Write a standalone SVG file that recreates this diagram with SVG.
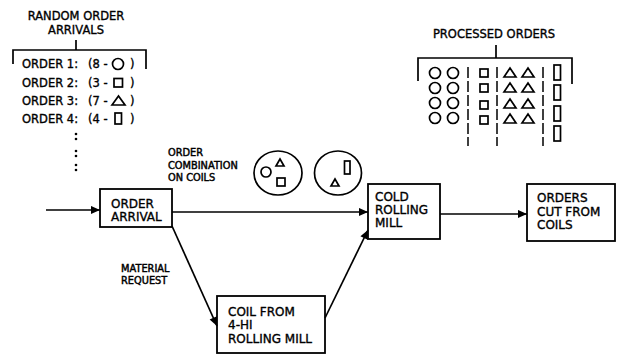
<svg xmlns="http://www.w3.org/2000/svg" width="620" height="355" viewBox="0 0 620 355">
<style>
text { font-family: "DejaVu Sans", "Liberation Sans", sans-serif; fill: #000; stroke: #000; stroke-width: 0.35; }
.box { font-size: 12px; }
.lbl { font-size: 9.8px; stroke-width: 0.45; }
.hdr { font-size: 11.5px; }
.lst { font-size: 11.5px; }
.node rect { fill: #fff; stroke: #000; stroke-width: 1.8; }
.ln { fill: none; stroke: #000; stroke-width: 1.7; }
.sym { fill: none; stroke: #000; stroke-width: 1.7; }
.dash { fill: none; stroke: #000; stroke-width: 1.5; stroke-dasharray: 11 3; }
</style>
<defs>
<marker id="ah" viewBox="0 0 10 10" refX="10" refY="5" markerWidth="10" markerHeight="9" markerUnits="userSpaceOnUse" orient="auto">
<path d="M0,0.5 L10,5 L0,9.5 Z" fill="#000"/>
</marker>
</defs>
<rect width="620" height="355" fill="#fff"/>

<g id="random-orders">
<text class="hdr" x="76" y="20" text-anchor="middle">RANDOM ORDER</text>
<text class="hdr" x="76" y="34" text-anchor="middle">ARRIVALS</text>
<path class="ln" d="M76,40 V50 M13,64 V50 H146 V69"/>
<text class="lst" x="22" y="68">ORDER 1:</text>
<text class="lst" x="88" y="68">(8 -</text>
<circle class="sym" cx="118" cy="64" r="5.5"/>
<text class="lst" x="130" y="68">)</text>
<text class="lst" x="22" y="86.5">ORDER 2:</text>
<text class="lst" x="88" y="86.5">(3 -</text>
<rect class="sym" x="114" y="78.5" width="8.5" height="8.5"/>
<text class="lst" x="130" y="86.5">)</text>
<text class="lst" x="22" y="105">ORDER 3:</text>
<text class="lst" x="88" y="105">(7 -</text>
<path class="sym" d="M112,105 L118.5,96 L125,105 Z"/>
<text class="lst" x="130" y="105">)</text>
<text class="lst" x="22" y="123">ORDER 4:</text>
<text class="lst" x="88" y="123">(4 -</text>
<rect class="sym" x="115" y="113" width="6.5" height="11"/>
<text class="lst" x="130" y="123">)</text>
<g fill="#000">
<circle cx="76" cy="134" r="1.3"/><circle cx="76" cy="139" r="1.3"/>
<circle cx="76" cy="151" r="1.3"/><circle cx="76" cy="156" r="1.3"/>
<circle cx="76" cy="165" r="1.3"/><circle cx="76" cy="170" r="1.3"/>
</g>
</g>

<g id="processed-orders">
<text class="hdr" x="494" y="38" text-anchor="middle">PROCESSED ORDERS</text>
<path class="ln" d="M496,45 V58 M418,81 V58 H572 V84"/>
<g class="sym">
<circle cx="435" cy="73" r="5.5"/><circle cx="453" cy="73" r="5.5"/>
<circle cx="435" cy="88" r="5.5"/><circle cx="453" cy="88" r="5.5"/>
<circle cx="435" cy="103" r="5.5"/><circle cx="453" cy="103" r="5.5"/>
<circle cx="435" cy="118" r="5.5"/><circle cx="453" cy="118" r="5.5"/>
<rect x="480" y="69" width="8" height="8"/>
<rect x="480" y="84" width="8" height="8"/>
<rect x="480" y="101" width="8" height="8"/>
<rect x="480" y="116" width="8" height="8"/>
<path d="M504,77 L510,68 L516,77 Z M522,77 L528,68 L534,77 Z"/>
<path d="M504,92 L510,83 L516,92 Z M522,92 L528,83 L534,92 Z"/>
<path d="M504,108 L510,99 L516,108 Z M522,108 L528,99 L534,108 Z"/>
<path d="M504,123 L510,114 L516,123 Z M522,123 L528,114 L534,123 Z"/>
<rect x="554" y="65" width="6.5" height="15"/>
<rect x="554" y="85" width="6.5" height="15"/>
<rect x="554" y="106" width="6.5" height="15"/>
<rect x="554" y="126" width="6.5" height="15"/>
</g>
<path class="dash" d="M468,67 V146 M497,67 V146 M543,67 V146"/>
</g>

<g id="order-combination">
<text class="lbl" x="168" y="156">ORDER</text>
<text class="lbl" x="168" y="169">COMBINATION</text>
<text class="lbl" x="168" y="181">ON COILS</text>
<g class="sym">
<ellipse cx="278" cy="173" rx="24" ry="22"/>
<circle cx="266" cy="172" r="5"/>
<path d="M276,166 L280,159 L284,166 Z"/>
<rect x="277" y="178" width="8" height="8"/>
<ellipse cx="338" cy="173" rx="23.5" ry="22"/>
<path d="M331,186 L335,179 L339,186 Z"/>
<rect x="344.5" y="161" width="5.5" height="13"/>
</g>
</g>

<g id="material-request">
<text class="lbl" x="121" y="272">MATERIAL</text>
<text class="lbl" x="121" y="284">REQUEST</text>
</g>

<g id="order-arrival" class="node">
<rect x="100" y="189" width="72" height="38"/>
<text class="box" x="111" y="208">ORDER</text>
<text class="box" x="111" y="221">ARRIVAL</text>
</g>

<g id="coil-from-mill" class="node">
<rect x="217" y="296" width="108" height="57"/>
<text class="box" x="228" y="316">COIL FROM</text>
<text class="box" x="228" y="329">4-HI</text>
<text class="box" x="228" y="343">ROLLING MILL</text>
</g>

<g id="cold-rolling-mill" class="node">
<rect x="368" y="184" width="72" height="55"/>
<text class="box" x="375" y="201">COLD</text>
<text class="box" x="375" y="214">ROLLING</text>
<text class="box" x="375" y="227">MILL</text>
</g>

<g id="orders-cut" class="node">
<rect x="527" y="184" width="88" height="57"/>
<text class="box" x="537" y="202">ORDERS</text>
<text class="box" x="537" y="216">CUT FROM</text>
<text class="box" x="537" y="229">COILS</text>
</g>

<g id="connectors" class="ln">
<path d="M46,210 H100" marker-end="url(#ah)"/>
<path d="M172,212 H368" marker-end="url(#ah)"/>
<path d="M172,226 L217,326" marker-end="url(#ah)"/>
<path d="M325,318 L368,230" marker-end="url(#ah)"/>
<path d="M440,214 H527" marker-end="url(#ah)"/>
</g>
</svg>
